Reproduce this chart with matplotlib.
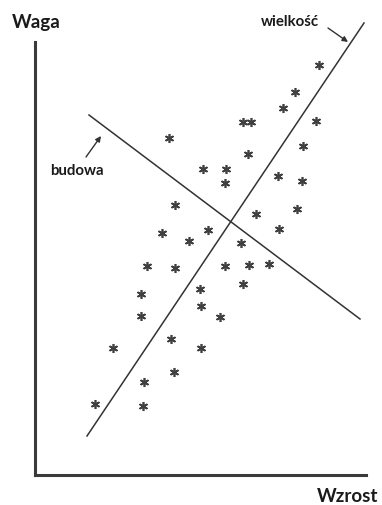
import matplotlib
matplotlib.use("Agg")
import matplotlib.pyplot as plt

# Observations (height, weight) in arbitrary units
wzrost = [284, 260, 248, 208, 216, 281, 134, 268, 213, 168, 191, 190, 243, 267,
          140, 262, 221, 244, 127, 173, 154, 206, 112, 140, 190, 214, 234, 208,
          106, 165, 166, 106, 185, 136, 78, 166, 139, 109, 60, 108]
waga = [410, 383, 367, 353, 353, 354, 337, 329, 321, 306, 306, 292, 299, 294,
        270, 266, 261, 246, 242, 245, 234, 232, 209, 207, 209, 210, 211, 191,
        181, 186, 169, 159, 158, 136, 127, 127, 103, 93, 71, 69]

# Principal directions: "wielkość" (size) and "budowa" (build)
wielkosc_x = [52, 329]
wielkosc_y = [39, 452]
budowa_x = [54, 325]
budowa_y = [360, 156]

plt.rcParams['font.family'] = ['Lato', 'DejaVu Sans']

fig = plt.figure(figsize=(3.82, 5.05), dpi=100)
ax = fig.add_axes([35 / 382, 30 / 505, 331 / 382, 433 / 505])
ax.set_xlim(0, 331)
ax.set_ylim(0, 433)

for side in ('top', 'right'):
    ax.spines[side].set_visible(False)
for side in ('left', 'bottom'):
    ax.spines[side].set_linewidth(2.2)
    ax.spines[side].set_color('#3a3a3a')
ax.set_xticks([])
ax.set_yticks([])

ax.plot(wielkosc_x, wielkosc_y, color='#333333', lw=1.1, clip_on=False)
ax.plot(budowa_x, budowa_y, color='#333333', lw=1.1, clip_on=False)

ax.plot(wzrost, waga, linestyle='none', marker=(6, 2, 0), markersize=6.5,
        markeredgewidth=1.2, color='#404040', clip_on=False)

arrow = dict(arrowstyle='-|>', lw=1.0, color='#333333', mutation_scale=8,
             shrinkA=0, shrinkB=0)
ax.annotate('', xy=(313, 433), xytext=(293, 447), arrowprops=arrow,
            annotation_clip=False)
ax.annotate('', xy=(66, 339), xytext=(51, 318), arrowprops=arrow,
            annotation_clip=False)

ax.text(-23, 447, 'Waga', fontsize=13.5, fontweight='bold', color='#1a1a1a',
        ha='left', va='baseline', clip_on=False)
ax.text(226, 449, 'wielkość', fontsize=10.8, fontweight='bold', color='#1a1a1a',
        ha='left', va='baseline', clip_on=False)
ax.text(15, 300, 'budowa', fontsize=10.8, fontweight='bold', color='#1a1a1a',
        ha='left', va='baseline', clip_on=False)
ax.text(343, -27, 'Wzrost', fontsize=13.5, fontweight='bold', color='#1a1a1a',
        ha='right', va='baseline', clip_on=False)

fig.savefig('out.png', dpi=100)
